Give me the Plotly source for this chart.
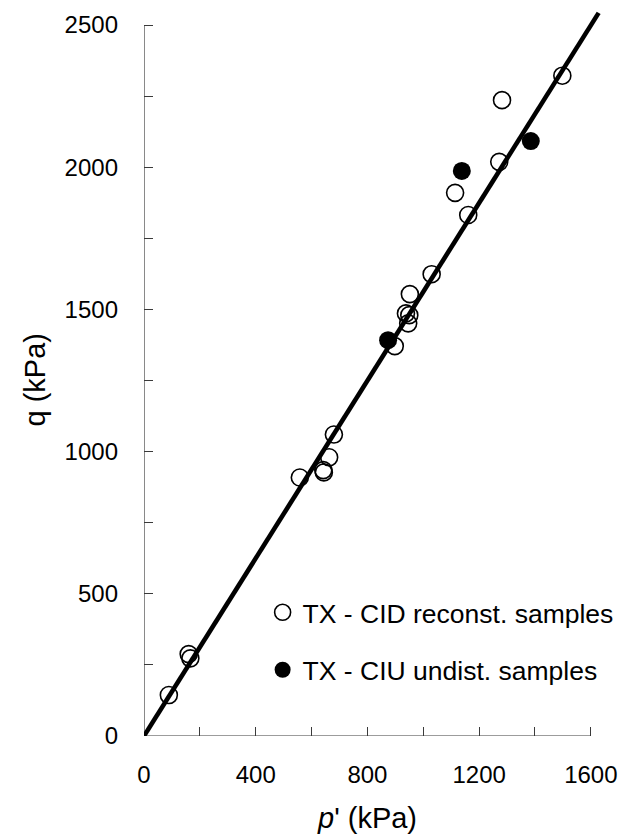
import plotly.graph_objects as go

# Drained triaxial tests on reconstituted samples (open symbols)
cid_p = [89, 160, 166, 558, 642, 644, 663, 680, 898, 938, 950, 946, 952, 1030, 1114, 1161, 1272, 1282, 1498]
cid_q = [144, 288, 273, 909, 935, 927, 980, 1060, 1371, 1486, 1480, 1451, 1554, 1624, 1910, 1832, 2019, 2236, 2322]

# Undrained triaxial tests on undisturbed samples (filled symbols)
ciu_p = [874, 1138, 1385]
ciu_q = [1392, 1987, 2092]

# Critical state line q = M p'
M = 1.562
csl_p = [0, 1628]
csl_q = [M * p for p in csl_p]

x_ticks = [0, 400, 800, 1200, 1600]
y_ticks = [0, 500, 1000, 1500, 2000, 2500]

FONT = "Liberation Sans, Arial, sans-serif"
AXIS_COLOR = "#3a3a3a"

fig = go.Figure()

fig.add_trace(go.Scatter(
    x=csl_p, y=csl_q, mode="lines",
    line=dict(color="black", width=4.6),
    showlegend=False, hoverinfo="skip",
))

fig.add_trace(go.Scatter(
    x=cid_p, y=cid_q, mode="markers",
    name="TX - CID reconst. samples", legendgroup="cid",
    marker=dict(symbol="circle-open", size=17, color="black", line=dict(width=1.6, color="black")),
))

fig.add_trace(go.Scatter(
    x=ciu_p, y=ciu_q, mode="markers",
    name="TX - CIU undist. samples", legendgroup="ciu",
    marker=dict(symbol="circle", size=18, color="black"),
))

# Axis lines stop at the last labelled tick
fig.add_shape(type="line", xref="x", yref="y", x0=0, y0=0, x1=x_ticks[-1], y1=0,
              line=dict(color=AXIS_COLOR, width=1.2), layer="below")
fig.add_shape(type="line", xref="x", yref="y", x0=0, y0=0, x1=0, y1=y_ticks[-1],
              line=dict(color=AXIS_COLOR, width=1.2), layer="below")

fig.add_annotation(text="<i>p</i>' (kPa)", xref="x", yref="paper", x=800, y=0,
                   xanchor="center", yanchor="middle", yshift=-82, showarrow=False,
                   font=dict(family=FONT, size=29, color="black"))
fig.add_annotation(text="q (kPa)", xref="paper", yref="y", x=0, y=1250,
                   xanchor="center", yanchor="middle", xshift=-109, textangle=-90,
                   showarrow=False, font=dict(family=FONT, size=29, color="black"))

fig.update_xaxes(
    range=[0, 1640], showgrid=False, zeroline=False, showline=False,
    tickvals=x_ticks, ticks="inside", ticklen=9, tickwidth=1.2, tickcolor=AXIS_COLOR,
    minor=dict(dtick=200, tick0=0, ticks="inside", ticklen=9, tickwidth=1.2, tickcolor=AXIS_COLOR),
    ticklabelstandoff=22,
    tickfont=dict(family=FONT, size=24, color="black"),
)
fig.update_yaxes(
    range=[0, 2560], showgrid=False, zeroline=False, showline=False,
    tickvals=y_ticks, ticks="inside", ticklen=9, tickwidth=1.2, tickcolor=AXIS_COLOR,
    minor=dict(dtick=250, tick0=0, ticks="inside", ticklen=9, tickwidth=1.2, tickcolor=AXIS_COLOR),
    ticklabelstandoff=25,
    tickfont=dict(family=FONT, size=24, color="black"),
)

fig.update_layout(
    width=632, height=840,
    margin=dict(l=144, r=30, t=8, b=104),
    paper_bgcolor="white", plot_bgcolor="white",
    font=dict(family=FONT, color="black"),
    legend=dict(
        x=0.259, y=0.2025, xanchor="left", yanchor="top",
        font=dict(family=FONT, size=26.5, color="black"),
        bgcolor="rgba(0,0,0,0)", tracegroupgap=20,
    ),
)

fig.write_html("out.html")
